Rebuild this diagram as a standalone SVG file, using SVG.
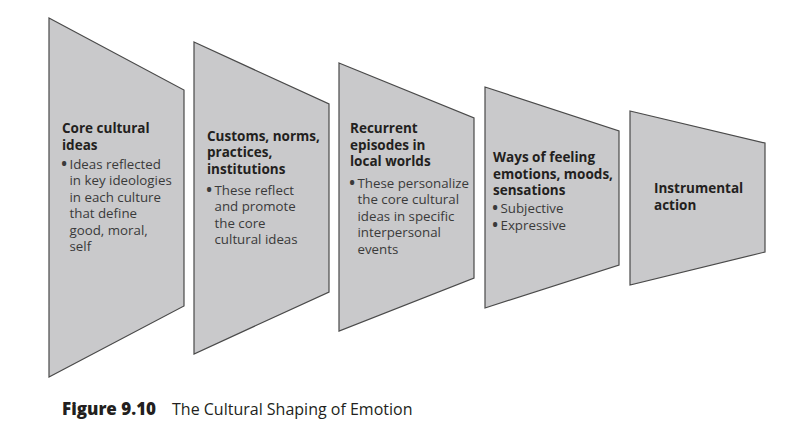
<svg xmlns="http://www.w3.org/2000/svg" width="792" height="422" viewBox="0 0 792 422">
<style>
.stage{fill:#c9c9cb;stroke:#4a4a4a;stroke-width:1.2;stroke-linejoin:miter}
.t{font-family:"Open Sans","Noto Sans","Liberation Sans",sans-serif;font-weight:700;font-size:13.5px;fill:#231f20}
.b{font-family:"Open Sans","Noto Sans","Liberation Sans",sans-serif;font-weight:400;font-size:13.3px;fill:#3a3a3a}
.d{font-weight:800}
.capb{font-family:"Open Sans","Noto Sans","Liberation Sans",sans-serif;font-weight:800;font-size:17px;fill:#231f20}
.capr{font-family:"Open Sans","Noto Sans","Liberation Sans",sans-serif;font-weight:400;font-size:16px;fill:#231f20}
</style>
<rect width="792" height="422" fill="#ffffff"/>
<g id="connectors"></g>
<g id="node1">
<polygon class="stage" points="49,18 184,90 184,306 49,377"/>
<text class="t" x="62" y="133">Core cultural</text>
<text class="t" x="62" y="149.5">ideas</text>
<text class="b" x="61.5" y="168.5"><tspan class="d">•</tspan><tspan x="69.5">Ideas reflected</tspan></text>
<text class="b" x="69.5" y="185">in key ideologies</text>
<text class="b" x="69.5" y="201.5">in each culture</text>
<text class="b" x="69.5" y="218">that define</text>
<text class="b" x="69.5" y="234.5">good, moral,</text>
<text class="b" x="69.5" y="251">self</text>
</g>
<g id="node2">
<polygon class="stage" points="194,42 329,104 329,292 194,354"/>
<text class="t" x="207" y="140.5">Customs, norms,</text>
<text class="t" x="207" y="157">practices,</text>
<text class="t" x="207" y="173.5">institutions</text>
<text class="b" x="206.5" y="194.5"><tspan class="d">•</tspan><tspan x="214.5">These reflect</tspan></text>
<text class="b" x="214.5" y="211">and promote</text>
<text class="b" x="214.5" y="227.5">the core</text>
<text class="b" x="214.5" y="244">cultural ideas</text>
</g>
<g id="node3">
<polygon class="stage" points="339,63 474,118 474,278 339,331"/>
<text class="t" x="350" y="133">Recurrent</text>
<text class="t" x="350" y="149.5">episodes in</text>
<text class="t" x="350" y="166">local worlds</text>
<text class="b" x="349.5" y="187.5"><tspan class="d">•</tspan><tspan x="357.5">These personalize</tspan></text>
<text class="b" x="357.5" y="204">the core cultural</text>
<text class="b" x="357.5" y="220.5">ideas in specific</text>
<text class="b" x="357.5" y="237">interpersonal</text>
<text class="b" x="357.5" y="253.5">events</text>
</g>
<g id="node4">
<polygon class="stage" points="485,87 619,131 619,265 485,308"/>
<text class="t" x="493" y="162">Ways of feeling</text>
<text class="t" x="493" y="178.5">emotions, moods,</text>
<text class="t" x="493" y="195">sensations</text>
<text class="b" x="492.5" y="213"><tspan class="d">•</tspan><tspan x="500.5">Subjective</tspan></text>
<text class="b" x="492.5" y="229.5"><tspan class="d">•</tspan><tspan x="500.5">Expressive</tspan></text>
</g>
<g id="node5">
<polygon class="stage" points="630,111 765,143 765,252 630,285"/>
<text class="t" x="654" y="193">Instrumental</text>
<text class="t" x="654" y="210">action</text>
</g>
<g id="caption">
<text class="capb" x="62" y="415">Figure 9.10</text>
<text class="capr" x="172" y="415">The Cultural Shaping of Emotion</text>
</g>
</svg>
